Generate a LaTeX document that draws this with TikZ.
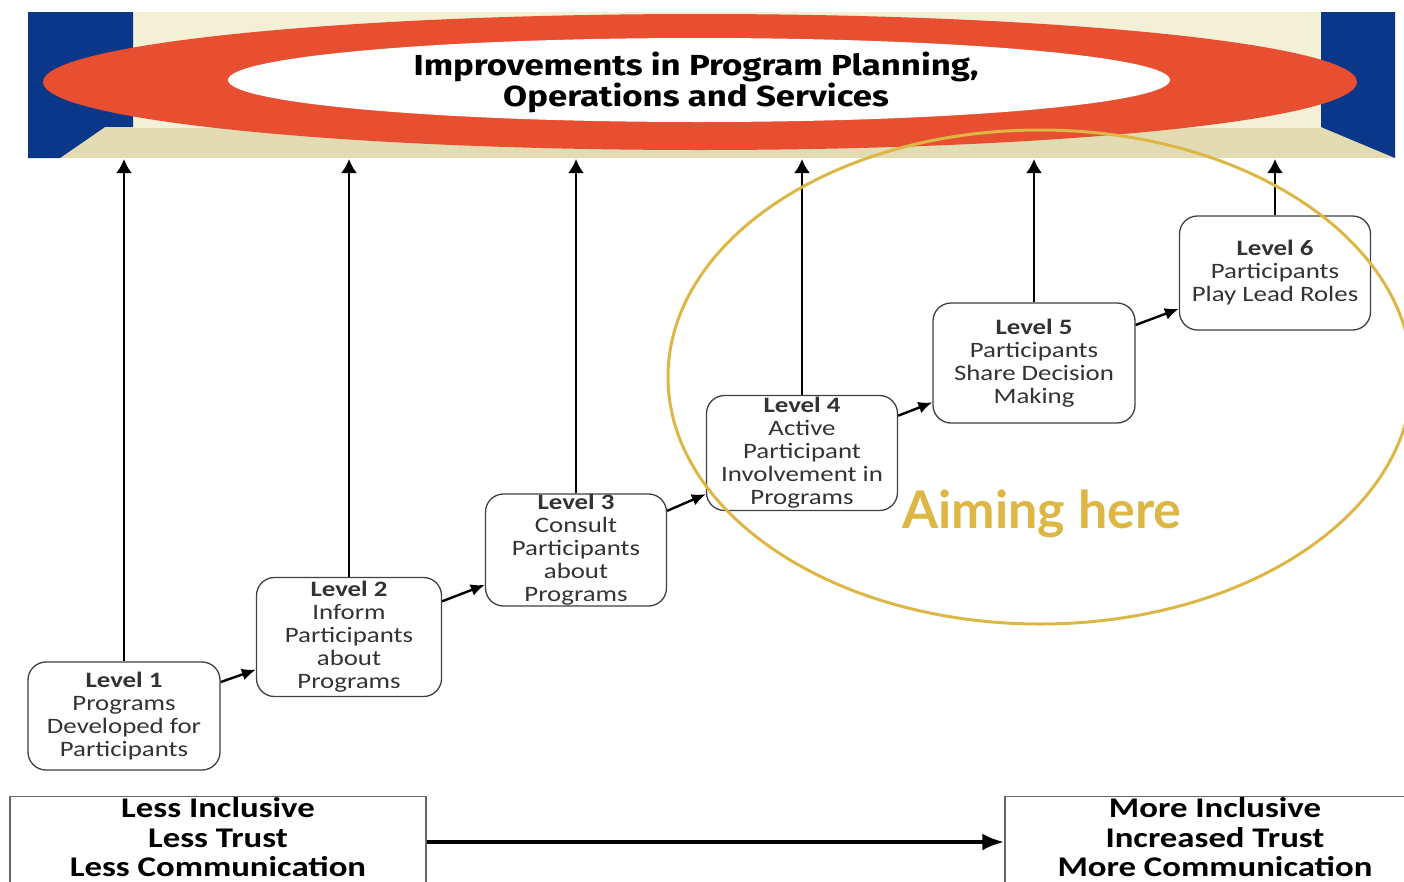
\documentclass[tikz,border=0pt]{standalone}
\usepackage{fontspec}
\setmainfont{Carlito}[FakeStretch=1.22]
\newfontfamily\titlefont{Fira Sans}[FakeStretch=1.2]
\newfontfamily\aimfont{Lato}
\usetikzlibrary{arrows.meta,positioning}

\definecolor{bannerblue}{RGB}{10,55,138}
\definecolor{bannerred}{RGB}{232,78,48}
\definecolor{bannercream}{RGB}{244,240,214}
\definecolor{bannerstrip}{RGB}{227,219,178}
\definecolor{aimgold}{RGB}{221,183,70}

\tikzset{
  levelbox/.style={draw=black!75, line width=1.3pt, rounded corners=18pt, fill=white,
    align=center, inner sep=0pt, text=black!80,
    font=\fontsize{22}{23}\selectfont},
  endbox/.style={draw=black!60, line width=1.4pt, align=center, inner xsep=0pt, inner ysep=1pt,
    text depth=24pt, anchor=north, font=\bfseries\fontsize{28.5}{29.5}\selectfont},
  uparrow/.style={-{Latex[length=14pt,width=16pt]}, line width=2.4pt},
  steparrow/.style={-{Latex[length=14pt,width=12pt]}, line width=2.4pt},
  spanarrow/.style={-{Latex[length=22pt,width=17pt]}, line width=4pt},
}

\begin{document}
\begin{tikzpicture}[x=1pt,y=-1pt,line join=bevel]
\useasboundingbox (0,0) rectangle (1404,881);
\clip (0,0) rectangle (1404,881);

% Banner
\fill[bannercream] (28,12) rectangle (1395,158);
\fill[bannerstrip] (28,128) rectangle (1395,158);
\fill[bannerblue] (28,12) -- (133,12) -- (133,127) -- (105,127) -- (60,158) -- (28,158) -- cycle;
\fill[bannerblue] (1321,12) -- (1395,12) -- (1395,158) -- (1321,127) -- cycle;
\fill[bannerred] (700,82) ellipse (657 and 68);
\fill[white] (699,80) ellipse (471 and 42);
\node[font=\titlefont\bfseries\fontsize{29}{31}\selectfont, align=center] (title) at (696,82)
  {Improvements in Program Planning,\\Operations and Services};
\coordinate (bnr) at (700,159);
\coordinate (spany) at (700,842);

% Node: l1
\node[levelbox, minimum width=192pt, minimum height=108pt] (l1) at (124,716)
  {\textbf{Level 1}\\Programs\\Developed for\\Participants};

% Node: l2
\node[levelbox, minimum width=185pt, minimum height=119pt] (l2) at (349,637)
  {\textbf{Level 2}\\Inform\\Participants\\about\\Programs};

% Node: l3
\node[levelbox, minimum width=181pt, minimum height=112pt] (l3) at (576,550)
  {\textbf{Level 3}\\Consult\\Participants\\about\\Programs};

% Node: l4
\node[levelbox, minimum width=191pt, minimum height=115pt] (l4) at (802,453)
  {\textbf{Level 4}\\Active\\Participant\\Involvement in\\Programs};

% Node: l5
\node[levelbox, minimum width=202pt, minimum height=120pt] (l5) at (1034,363)
  {\textbf{Level 5}\\Participants\\Share Decision\\Making};

% Node: l6
\node[levelbox, minimum width=191pt, minimum height=114pt] (l6) at (1275,273)
  {\textbf{Level 6}\\Participants\\Play Lead Roles};

% Edge: l1 -> l2 -> l3 -> l4 -> l5 -> l6
\draw[steparrow] (l1) -- (l2);
\draw[steparrow] (l2) -- (l3);
\draw[steparrow] (l3) -- (l4);
\draw[steparrow] (l4) -- (l5);
\draw[steparrow] (l5) -- (l6);

% Edge: levels -> banner
\foreach \lv in {l1,l2,l3,l4,l5,l6}
  \draw[uparrow] (\lv.north) -- (\lv.north |- bnr);

% Node: less / more
\node[endbox, minimum width=416pt] (less) at (218,796)
  {Less Inclusive\\Less Trust\\Less Communication};
\node[endbox, minimum width=420pt] (more) at (1215,796)
  {More Inclusive\\Increased Trust\\More Communication};

% Edge: less -> more
\draw[spanarrow] (less.east |- spany) -- (more.west |- spany);

% Aim
\draw[aimgold, line width=3pt] (1040,377) ellipse (372 and 247);
\node[font=\aimfont\bfseries\fontsize{52}{54}\selectfont, text=aimgold] (aim) at (1042,514) {Aiming here};

\end{tikzpicture}
\end{document}
